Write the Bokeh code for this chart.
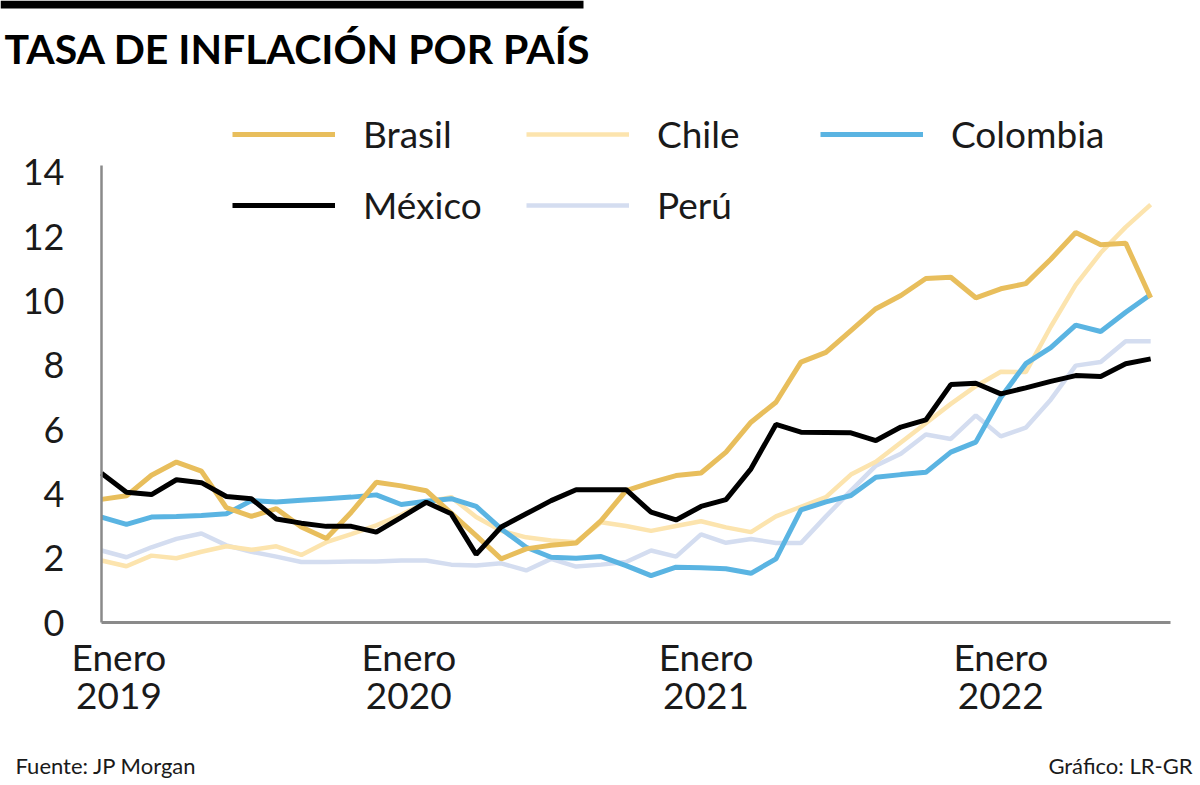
from bokeh.plotting import figure
from bokeh.models import (Legend, LegendItem, FixedTicker, Label, BoxAnnotation,
                          Range1d)
from bokeh.embed import file_html
from bokeh.resources import INLINE

# ---------------- data ----------------
meses = [f"{y}-{m:02d}" for y in (2019, 2020, 2021, 2022) for m in range(1, 13)][:43]

brasil = [3.83, 3.94, 4.58, 4.99, 4.71, 3.57, 3.30, 3.54, 2.97, 2.61, 3.43, 4.36,
          4.25, 4.10, 3.40, 2.70, 1.98, 2.29, 2.40, 2.47, 3.17, 4.10, 4.35, 4.57,
          4.65, 5.30, 6.23, 6.85, 8.10, 8.40, 9.08, 9.76, 10.17, 10.70, 10.74, 10.10,
          10.38, 10.54, 11.30, 12.13, 11.75, 11.80, 10.10]
chile = [1.93, 1.75, 2.08, 2.00, 2.20, 2.37, 2.26, 2.37, 2.10, 2.50, 2.75, 3.02,
         3.35, 3.75, 3.90, 3.28, 2.85, 2.65, 2.55, 2.50, 3.12, 3.00, 2.85, 3.00,
         3.15, 2.96, 2.81, 3.30, 3.60, 3.90, 4.60, 5.00, 5.60, 6.20, 6.80, 7.35,
         7.80, 7.79, 9.20, 10.50, 11.50, 12.30, 13.00]
colombia = [3.28, 3.05, 3.28, 3.30, 3.33, 3.38, 3.79, 3.75, 3.80, 3.85, 3.90, 3.97,
            3.67, 3.77, 3.85, 3.61, 2.91, 2.34, 2.03, 2.00, 2.05, 1.77, 1.46, 1.72,
            1.70, 1.67, 1.53, 1.98, 3.50, 3.75, 3.95, 4.52, 4.60, 4.67, 5.30, 5.61,
            7.00, 8.05, 8.55, 9.25, 9.05, 9.65, 10.20]
mexico = [4.64, 4.05, 3.98, 4.44, 4.35, 3.92, 3.85, 3.22, 3.09, 2.99, 2.99, 2.81,
          3.27, 3.74, 3.38, 2.12, 2.97, 3.38, 3.79, 4.13, 4.13, 4.13, 3.43, 3.19,
          3.61, 3.82, 4.78, 6.16, 5.92, 5.91, 5.90, 5.66, 6.08, 6.30, 7.40, 7.44,
          7.11, 7.30, 7.50, 7.68, 7.65, 8.05, 8.20]
peru = [2.24, 2.03, 2.34, 2.60, 2.77, 2.40, 2.20, 2.05, 1.88, 1.88, 1.90, 1.90,
        1.93, 1.93, 1.80, 1.77, 1.84, 1.62, 1.98, 1.74, 1.80, 1.88, 2.24, 2.05,
        2.74, 2.48, 2.60, 2.47, 2.47, 3.30, 4.10, 4.88, 5.25, 5.85, 5.71, 6.44,
        5.79, 6.06, 6.93, 7.99, 8.10, 8.75, 8.75]

tick_labels = ["Enero\n2019", "Enero\n2020", "Enero\n2021", "Enero\n2022"]
y_ticks = [0, 2, 4, 6, 8, 10, 12, 14]

# ---------------- style ----------------
FONT = "Lato"
TXT = "#1a1a1a"
colors = {"Brasil": "#E8BE5C", "Chile": "#FCE4AE", "Colombia": "#5AB4E2",
          "México": "#000000", "Perú": "#D4DDF0"}
tick_pos = [0.7, 12.3, 24.2, 36.0]
W, H = 1200, 785

x = list(range(len(meses)))

# the frame covers the whole canvas; the axes are pinned with fixed_location
p = figure(width=W, height=H, output_backend="svg", toolbar_location=None,
           x_range=Range1d(-4.043, 43.995), y_range=Range1d(-5.07, 19.347),
           min_border=0)
p.outline_line_color = None
p.background_fill_color = "white"
p.border_fill_color = "white"
p.xgrid.grid_line_color = None
p.ygrid.grid_line_color = None

series = [("Perú", peru, 4.5), ("Chile", chile, 4.5), ("Colombia", colombia, 5),
          ("Brasil", brasil, 5), ("México", mexico, 5)]
rend = {}
for name, vals, lw in series:
    rend[name] = p.line(x, vals, line_color=colors[name], line_width=lw)

# axes
p.yaxis.fixed_location = 0
p.yaxis.bounds = (0, 14.21)
p.yaxis.ticker = FixedTicker(ticks=y_ticks)
p.yaxis.axis_line_color = "#8a8a8a"
p.yaxis.axis_line_width = 2.5
p.yaxis.major_tick_line_color = None
p.yaxis.minor_tick_line_color = None
p.yaxis.major_label_standoff = 31
p.yaxis.major_label_text_font = FONT
p.yaxis.major_label_text_font_size = "36px"
p.yaxis.major_label_text_color = TXT

p.xaxis.fixed_location = 0
p.xaxis.bounds = (0, 42.8)
p.xaxis.ticker = FixedTicker(ticks=tick_pos)
p.xaxis.major_label_overrides = {t: l for t, l in zip(tick_pos, tick_labels)}
p.xaxis.axis_line_color = "#8a8a8a"
p.xaxis.axis_line_width = 3
p.xaxis.major_tick_line_color = None
p.xaxis.minor_tick_line_color = None
p.xaxis.major_label_standoff = 5
p.xaxis.major_label_text_font = FONT
p.xaxis.major_label_text_font_size = "37px"
p.xaxis.major_label_text_color = TXT
p.xaxis.major_label_text_line_height = 0.85

# legends
def make_legend(names, loc):
    lg = Legend(items=[LegendItem(label=n, renderers=[rend[n]]) for n in names],
                orientation="horizontal", location=loc)
    lg.border_line_color = None
    lg.background_fill_alpha = 0
    lg.padding = 0
    lg.margin = 0
    lg.spacing = 3
    lg.glyph_width = 103
    lg.glyph_height = 40
    lg.label_standoff = 28
    lg.label_width = 160
    lg.label_text_font = FONT
    lg.label_text_font_size = "37px"
    lg.label_text_color = TXT
    return lg

p.add_layout(make_legend(["Brasil", "Chile", "Colombia"], (232, H - 156)), "center")
p.add_layout(make_legend(["México", "Perú"], (232, H - 227)), "center")

# title, bar and footer (screen units = pixels from the canvas bottom-left)
p.add_layout(BoxAnnotation(left=0, right=583, top=H, bottom=H - 8,
                           left_units="screen", right_units="screen",
                           top_units="screen", bottom_units="screen",
                           fill_color="black", fill_alpha=1, line_color=None))
p.add_layout(Label(x=4, y=H - 48, x_units="screen", y_units="screen",
                   text="TASA DE INFLACIÓN POR PAÍS", text_font=FONT,
                   text_font_style="bold", text_font_size="41px",
                   text_color="black", text_baseline="alphabetic"))
p.add_layout(Label(x=15, y=H - 765, x_units="screen", y_units="screen",
                   text="Fuente: JP Morgan", text_font=FONT, text_font_size="22px",
                   text_color=TXT, text_baseline="alphabetic"))
p.add_layout(Label(x=1192, y=H - 765, x_units="screen", y_units="screen",
                   text="Gráfico: LR-GR", text_font=FONT, text_font_size="22px",
                   text_color=TXT, text_baseline="alphabetic", text_align="right"))

open("out.html", "w").write(file_html(p, INLINE))
